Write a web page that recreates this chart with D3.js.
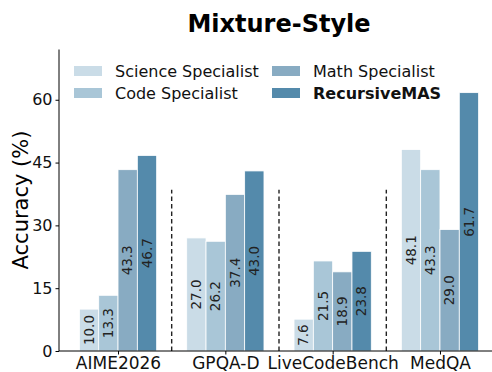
<!DOCTYPE html>
<html>
<head>
<meta charset="utf-8">
<script src="https://cdn.jsdelivr.net/npm/d3@7"></script>
<style>
  body { margin: 0; background: #fff; }
  text { font-family: "DejaVu Sans", sans-serif; }
</style>
</head>
<body>
<div id="chart"></div>
<script>
var benchmarks = ["AIME2026", "GPQA-D", "LiveCodeBench", "MedQA"];
var methods = ["Science Specialist", "Code Specialist", "Math Specialist", "RecursiveMAS"];
var colors = ["#cadce7", "#a9c6d7", "#88abc2", "#548aab"];
var values = [
  [10.0, 27.0, 7.6, 48.1],   // Science Specialist
  [13.3, 26.2, 21.5, 43.3],  // Code Specialist
  [43.3, 37.4, 18.9, 29.0],  // Math Specialist
  [46.7, 43.0, 23.8, 61.7]   // RecursiveMAS
];
var yTicks = [0, 15, 30, 45, 60];

var W = 492, H = 372;
var margin = {top: 49.5, left: 59, bottom: 21};
var plotBottom = H - margin.bottom;

var x = d3.scaleLinear().domain([-0.55, 3.55]).range([59, 499]);
var y = d3.scaleLinear().domain([0, 72]).range([plotBottom, margin.top]);
var barW = 0.18;

var svg = d3.select("#chart").append("svg")
    .attr("width", W)
    .attr("height", H);

// title
svg.append("text")
    .attr("x", 279)
    .attr("y", 32)
    .attr("text-anchor", "middle")
    .style("font-weight", "bold")
    .style("font-size", "24px")
    .text("Mixture-Style");

// bars
methods.forEach(function(m, j) {
  var g = svg.append("g");
  g.selectAll("rect")
      .data(values[j])
      .enter().append("rect")
      .attr("x", function(d, i) { return x(i + (j - 2) * barW); })
      .attr("y", function(d) { return y(d); })
      .attr("width", x(barW) - x(0))
      .attr("height", function(d) { return y(0) - y(d); })
      .attr("fill", colors[j])
      .attr("stroke", "#fff")
      .attr("stroke-width", 0.8);

  g.selectAll("text")
      .data(values[j])
      .enter().append("text")
      .attr("transform", function(d, i) {
        return "translate(" + x(i + (j - 1.5) * barW) + "," + (y(0) + y(d)) / 2 + ") rotate(-90)";
      })
      .attr("text-anchor", "middle")
      .attr("dy", "0.35em")
      .style("font-size", "13.5px")
      .style("fill", "#222")
      .text(function(d) { return d.toFixed(1); });
});

// dashed separators
svg.selectAll(".sep")
    .data([0.5, 1.5, 2.5])
    .enter().append("line")
    .attr("class", "sep")
    .attr("x1", function(d) { return x(d); })
    .attr("x2", function(d) { return x(d); })
    .attr("y1", y(0))
    .attr("y2", y(38.5))
    .attr("stroke", "#222")
    .attr("stroke-width", 1.4)
    .attr("stroke-dasharray", "4.5,3");

// axes
var yAxis = d3.axisLeft(y).tickValues(yTicks).tickSize(3.5).tickPadding(3);
var xAxis = d3.axisBottom(x).tickValues([0, 1, 2, 3])
    .tickFormat(function(d) { return benchmarks[d]; })
    .tickSize(3.5).tickPadding(2);

var gy = svg.append("g")
    .attr("transform", "translate(" + x(-0.55) + ",0)")
    .call(yAxis);
gy.select(".domain").attr("d", "M0," + y(72) + "V" + y(0));
gy.selectAll("text").style("font-size", "16px").style("fill", "#111");

var gx = svg.append("g")
    .attr("transform", "translate(0," + plotBottom + ")")
    .call(xAxis);
gx.select(".domain").attr("d", "M" + x(-0.55) + ",0H" + W);
gx.selectAll("text").style("font-size", "17px").style("fill", "#111");

svg.append("text")
    .attr("transform", "translate(28,200) rotate(-90)")
    .attr("text-anchor", "middle")
    .style("font-size", "21px")
    .text("Accuracy (%)");

// legend
var legend = svg.append("g");
methods.forEach(function(m, j) {
  var col = Math.floor(j / 2), row = j % 2;
  var lx = col === 0 ? 74 : 272, ly = 71 + row * 22;
  legend.append("rect")
      .attr("x", lx).attr("y", ly - 5)
      .attr("width", 28).attr("height", 10)
      .attr("fill", colors[j]);
  legend.append("text")
      .attr("x", lx + 41).attr("y", ly)
      .attr("dy", "0.35em")
      .style("font-size", "16px")
      .style("font-weight", j === 3 ? "bold" : "normal")
      .style("fill", "#111")
      .text(m);
});
</script>
</body>
</html>
